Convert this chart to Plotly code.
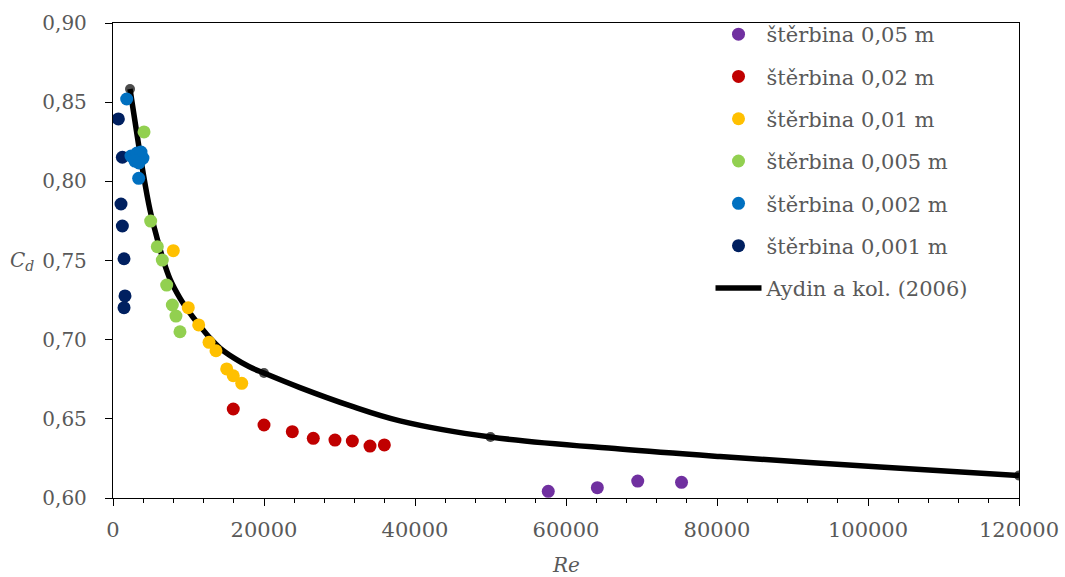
import plotly.graph_objects as go

# Measured discharge coefficients for each slit width (Re, Cd)
re_005 = [57650, 64150, 69500, 75300]
cd_005 = [0.6042, 0.6065, 0.6107, 0.6099]

re_002 = [15930, 20000, 23750, 26530, 29400, 31700, 34040, 35940]
cd_002 = [0.6562, 0.6461, 0.6419, 0.6377, 0.6366, 0.6360, 0.6328, 0.6335]

re_001 = [7990, 9970, 11350, 12720, 13640, 15060, 15930, 17050]
cd_001 = [0.7562, 0.7202, 0.7093, 0.6983, 0.6930, 0.6815, 0.6772, 0.6724]

re_0005 = [4110, 4990, 5870, 6530, 7110, 7860, 8340, 8870]
cd_0005 = [0.8312, 0.7749, 0.7587, 0.7503, 0.7345, 0.7219, 0.7149, 0.7050]

re_0002 = [1810, 2380, 3180, 3710, 3970, 2910, 3440, 3400]
cd_0002 = [0.8520, 0.8160, 0.8179, 0.8185, 0.8147, 0.8128, 0.8116, 0.8019]

re_0001 = [710, 1240, 1060, 1240, 1460, 1590, 1460]
cd_0001 = [0.8394, 0.8152, 0.7857, 0.7718, 0.7511, 0.7276, 0.7202]

# Aydin et al. (2006) reference curve
aydin_re = [2250, 3110, 3970, 4900, 5830, 6620, 7550, 8870, 10200, 11520,
            12850, 14170, 16160, 18000, 20000, 24770, 31390, 38010, 50000,
            67150, 80400, 101600, 120000]
aydin_cd = [0.8583, 0.8318, 0.8059, 0.7819, 0.7642, 0.7509, 0.7383, 0.7263,
            0.7168, 0.7086, 0.7010, 0.6947, 0.6880, 0.6830, 0.6789, 0.6697,
            0.6583, 0.6487, 0.6385, 0.6309, 0.6262, 0.6196, 0.6142]
aydin_marked = [2250, 20000, 50000, 120000]

series = [
    ("štěrbina 0,05 m", re_005, cd_005, "#7030A0"),
    ("štěrbina 0,02 m", re_002, cd_002, "#C00000"),
    ("štěrbina 0,01 m", re_001, cd_001, "#FFC000"),
    ("štěrbina 0,005 m", re_0005, cd_0005, "#92D050"),
    ("štěrbina 0,002 m", re_0002, cd_0002, "#0070C0"),
    ("štěrbina 0,001 m", re_0001, cd_0001, "#002060"),
]

FONT = "DejaVu Serif"
GREY = "#595959"

fig = go.Figure()

fig.add_trace(go.Scatter(
    x=aydin_re, y=aydin_cd, name="Aydin a kol. (2006)",
    mode="lines+markers", line=dict(color="black", width=5.5, shape="spline"),
    marker=dict(color="black", line=dict(width=0),
                size=[10 if r in aydin_marked else 0 for r in aydin_re]),
    legendrank=7, legendgroup="g7",
))

# point series drawn above the curve, smallest slit first
for i, (name, xs, ys, col) in reversed(list(enumerate(series))):
    fig.add_trace(go.Scatter(
        x=xs, y=ys, name=name, mode="markers",
        marker=dict(color=col, size=13),
        legendrank=i + 1, legendgroup=f"g{i}",
    ))

fig.update_layout(
    width=1065, height=577,
    margin=dict(l=113, r=46, t=23, b=79),
    paper_bgcolor="white", plot_bgcolor="white",
    separators=", ",
    font=dict(family=FONT, size=20, color=GREY),
    showlegend=True,
    legend=dict(
        x=0.6595, y=1.019, xanchor="left", yanchor="top",
        bgcolor="rgba(0,0,0,0)", tracegroupgap=12,
        font=dict(family=FONT, size=21, color=GREY),
        itemwidth=46, maxheight=800,
    ),
    xaxis=dict(
        range=[0, 120000], tickvals=[0, 20000, 40000, 60000, 80000, 100000, 120000],
        tickformat="d", showgrid=False, zeroline=False, automargin=False,
        showline=True, linecolor="black", linewidth=1.3, mirror=True,
        ticks="outside", ticklen=7, tickcolor="black", tickwidth=1.3,
        minor=dict(dtick=4000, tick0=0, ticks="outside", ticklen=4,
                   tickcolor="black", tickwidth=1),
        tickfont=dict(family=FONT, size=21, color=GREY),
        ticklabelstandoff=6,
    ),
    yaxis=dict(
        range=[0.60, 0.90], dtick=0.05, tickformat=".2f",
        showgrid=False, zeroline=False, automargin=False,
        showline=True, linecolor="black", linewidth=1.3, mirror=True,
        ticks="outside", ticklen=7, tickcolor="black", tickwidth=1.3,
        tickfont=dict(family=FONT, size=20, color=GREY),
        ticklabelstandoff=14,
    ),
    annotations=[
        dict(text="<i>C<sub>d</sub></i>", xref="paper", yref="y", x=-0.1, y=0.75,
             xanchor="center", yanchor="middle", showarrow=False,
             font=dict(family=FONT, size=20, color=GREY)),
        dict(text="<i>Re</i>", xref="x", yref="paper", x=60000, y=-0.141,
             xanchor="center", yanchor="middle", showarrow=False,
             font=dict(family=FONT, size=20, color=GREY)),
    ],
)

fig.write_html("out.html")
